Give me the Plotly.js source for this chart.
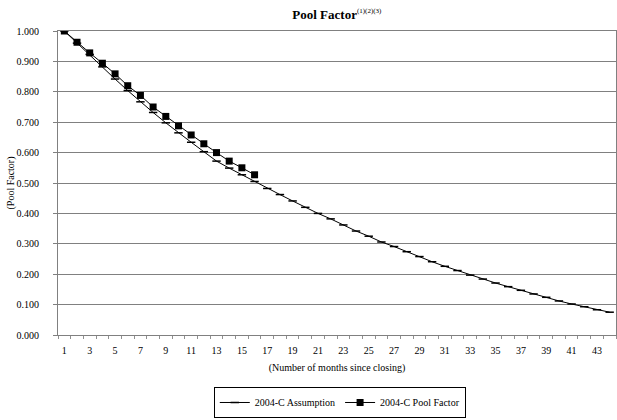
<!DOCTYPE html>
<html>
<head>
<meta charset="utf-8">
<script src="https://cdn.plot.ly/plotly-3.0.1.min.js"></script>
<style>html,body{margin:0;padding:0;background:#fff;}</style>
</head>
<body>
<div id="chart" style="width:617px;height:420px;"></div>
<script>
var months = [];
for (var i = 1; i <= 44; i++) months.push(i);
var poolMonths = months.slice(0, 16);

var assumption = [1.000, 0.960, 0.923, 0.882, 0.842, 0.804, 0.767, 0.732, 0.698, 0.665,
  0.634, 0.603, 0.572, 0.549, 0.527, 0.505, 0.482, 0.462, 0.441, 0.420,
  0.400, 0.382, 0.362, 0.342, 0.325, 0.306, 0.291, 0.274, 0.258, 0.241,
  0.226, 0.212, 0.197, 0.184, 0.171, 0.159, 0.147, 0.135, 0.124, 0.112,
  0.102, 0.093, 0.083, 0.075];
var poolFactor = [1.000, 0.963, 0.928, 0.894, 0.859, 0.820, 0.788, 0.750, 0.719, 0.688,
  0.658, 0.629, 0.600, 0.572, 0.550, 0.527];
var xTickVals = [1,3,5,7,9,11,13,15,17,19,21,23,25,27,29,31,33,35,37,39,41,43];
var yTickVals = [0,0.1,0.2,0.3,0.4,0.5,0.6,0.7,0.8,0.9,1.0];

var font = 'Liberation Serif, Times New Roman, serif';

var traces = [
  {
    x: months, y: assumption, name: '2004-C Assumption', type: 'scatter', mode: 'lines+markers',
    line: {color: '#000', width: 1},
    marker: {symbol: 'line-ew', size: 6, color: '#000', line: {color: '#000', width: 1.5}}
  },
  {
    x: poolMonths, y: poolFactor, name: '2004-C Pool Factor', type: 'scatter', mode: 'lines+markers',
    line: {color: '#000', width: 1},
    marker: {symbol: 'square', size: 7, color: '#000'}
  }
];

var layout = {
  width: 617, height: 420,
  margin: {l: 58, r: 1, t: 31, b: 85},
  paper_bgcolor: '#fff', plot_bgcolor: '#fff',
  font: {family: font, size: 10, color: '#000'},
  title: {text: '<b>Pool Factor</b><sup><span style="font-size:7px">(1)(2)(3)</span></sup>', font: {family: font, size: 13, color: '#000'},
    x: 0.546, xanchor: 'center', y: 0.966, yanchor: 'middle'},
  showlegend: true,
  legend: {orientation: 'h', x: 0.505, xanchor: 'center', y: -0.222, yanchor: 'middle',
    bordercolor: '#000', borderwidth: 1, font: {family: font, size: 10}, tracegroupgap: 0, itemwidth: 30},
  xaxis: {
    range: [0.5, 44.5], tickmode: 'array', tickvals: xTickVals, ticks: '',
    showgrid: false, zeroline: false, showline: true, linecolor: '#808080', linewidth: 1, mirror: true,
    tickfont: {family: font, size: 10}, ticklabelstandoff: 6,
    minor: {tickmode: 'linear', tick0: 0.5, dtick: 1, ticks: 'outside', ticklen: 3, tickcolor: '#909090', showgrid: false},
    title: {text: '(Number of months since closing)', font: {family: font, size: 10}, standoff: 8}
  },
  yaxis: {
    range: [0, 1.0], tickmode: 'array', tickvals: yTickVals, tickformat: '.3f',
    ticks: 'outside', ticklen: 4, tickcolor: '#808080',
    showgrid: true, gridcolor: '#808080', gridwidth: 1, zeroline: false,
    showline: true, linecolor: '#808080', linewidth: 1, mirror: true,
    tickfont: {family: font, size: 10}, ticklabelstandoff: 12,
    title: {text: '(Pool Factor)', font: {family: font, size: 10}, standoff: 0}
  }
};

Plotly.newPlot('chart', traces, layout, {displayModeBar: false, staticPlot: true});
</script>
</body>
</html>
